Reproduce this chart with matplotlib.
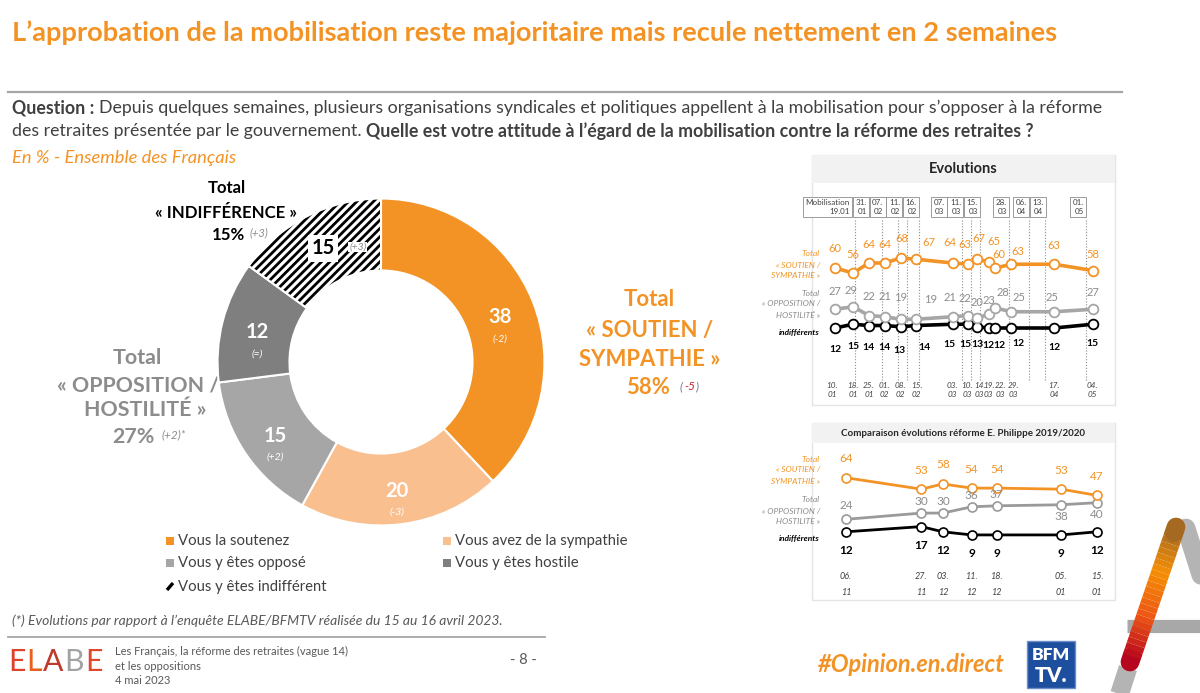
import datetime as dt
import numpy as np
import matplotlib
matplotlib.use("Agg")
import matplotlib.pyplot as plt
from matplotlib.patches import Rectangle, Wedge

plt.rcParams['font.family'] = ['Lato', 'DejaVu Sans']
plt.rcParams['hatch.linewidth'] = 2.0

W, H = 1200, 693
ORANGE = '#F39325'
LIGHT_OR = '#F9BF8F'
GRAY_L = '#A6A6A6'
GRAY_D = '#7F7F7F'
TXT = '#404040'

# ---- donut
donut_labels = ["Vous la soutenez", "Vous avez de la sympathie", "Vous y êtes opposé",
                "Vous y êtes hostile", "Vous y êtes indifférent"]
donut_values = [38, 20, 15, 12, 15]
donut_changes = ["(-2)", "(-3)", "(+2)", "(=)", "(+3)"]

# ---- evolutions 2023
evo_dates = ["2023-01-10", "2023-01-18", "2023-01-25", "2023-02-01", "2023-02-08", "2023-02-15",
             "2023-03-03", "2023-03-10", "2023-03-14", "2023-03-19", "2023-03-22", "2023-03-29",
             "2023-04-17", "2023-05-04"]
evo_soutien = [60, 56, 64, 64, 68, 67, 64, 63, 67, 65, 60, 63, 63, 58]
evo_opposition = [27, 29, 22, 21, 19, 19, 21, 22, 20, 23, 28, 25, 25, 27]
evo_indiff = [12, 15, 14, 14, 13, 14, 15, 15, 13, 12, 12, 12, 12, 15]
mobil_dates = ["2023-01-19", "2023-01-31", "2023-02-07", "2023-02-11", "2023-02-16", "2023-03-07",
               "2023-03-11", "2023-03-15", "2023-03-28", "2023-04-06", "2023-04-13", "2023-05-01"]

# ---- reforme Philippe 2019/2020
phil_dates = ["2019-11-06", "2019-11-27", "2019-12-03", "2019-12-11", "2019-12-18",
              "2020-01-05", "2020-01-15"]
phil_soutien = [64, 53, 58, 54, 54, 53, 47]
phil_opposition = [24, 30, 30, 36, 37, 38, 40]
phil_indiff = [12, 17, 12, 9, 9, 9, 12]


def to_date(s):
    return dt.date.fromisoformat(s)


def day_of_year(s):
    d = to_date(s)
    return (d - dt.date(d.year, 1, 1)).days + 1


def short(s):
    d = to_date(s)
    return "%02d.\n%02d" % (d.day, d.month)


fig = plt.figure(figsize=(12, 6.93), dpi=100)
bg = fig.add_axes([0, 0, 1, 1])
bg.set_xlim(0, W)
bg.set_ylim(H, 0)
bg.axis('off')
renderer = fig.canvas.get_renderer()


def px_axes(l, t, r, b):
    return fig.add_axes([l / W, 1 - b / H, (r - l) / W, (b - t) / H])


def text_w(s, size, **kw):
    t = bg.text(0, 0, s, fontsize=size, **kw)
    w = t.get_window_extent(renderer).width
    t.remove()
    return w


def fit(s, target, **kw):
    return 12 * target / text_w(s, 12, **kw)


def draw_runs(x, y, parts, size, **common):
    sp = text_w("a a", size) - text_w("aa", size)
    for s, kw in parts:
        t = bg.text(x, y, s, fontsize=size, va='center', ha='left', **common, **kw)
        x += t.get_window_extent(renderer).width + sp
    return x


def runs_width(parts, size):
    sp = text_w("a a", size) - text_w("aa", size)
    return sum(text_w(s, size, **kw) for s, kw in parts) + sp * (len(parts) - 1)


# ---- header
title = "L’approbation de la mobilisation reste majoritaire mais recule nettement en 2 semaines"
bg.text(12, 33, title, fontsize=fit(title, 1042, fontweight='bold'), color=ORANGE,
        fontweight='bold', va='center')
bg.plot([8, 1122], [92, 92], color=GRAY_L, lw=1.6)

B = {'fontweight': 'bold'}
N = {}
line1 = [("Question :", B), ("Depuis quelques semaines, plusieurs organisations syndicales et politiques "
                             "appellent à la mobilisation pour s’opposer à la réforme", N)]
line2 = [("des retraites présentée par le gouvernement.", N),
         ("Quelle est votre attitude à l’égard de la mobilisation contre la réforme des retraites ?", B)]
qsize = 12 * 1082 / runs_width(line1, 12)
draw_runs(12, 108, line1, qsize, color=TXT)
draw_runs(12, 131, line2, qsize, color=TXT)
sub = "En % - Ensemble des Français"
bg.text(12, 158, sub, fontsize=fit(sub, 224, style='italic'), style='italic', color=ORANGE, va='center')

# ---- donut
cols = [ORANGE, LIGHT_OR, GRAY_L, GRAY_D, 'white']
dax = px_axes(211, 192, 551, 532)
wedges, _ = dax.pie(donut_values, colors=cols, startangle=90, counterclock=False, radius=1,
                    wedgeprops=dict(width=0.44, edgecolor='white', linewidth=1.5))
hw = wedges[4]
hw.set_hatch('////')
hw.set_edgecolor('black')
hw.set_linewidth(0)
dax.add_patch(Wedge(hw.center, hw.r, hw.theta1, hw.theta2, width=hw.width,
                    fill=False, edgecolor='white', lw=1.5))
dax.set_xlim(-1.04, 1.04)
dax.set_ylim(-1.04, 1.04)

for i, w in enumerate(wedges):
    a = np.deg2rad((w.theta1 + w.theta2) / 2)
    pos = (0.78 * np.cos(a), 0.78 * np.sin(a))
    if i == 4:
        dax.annotate(str(donut_values[i]), pos, xytext=(0, 0), textcoords='offset points',
                     ha='center', va='center', fontsize=14.5, fontweight='bold', color='black',
                     bbox=dict(fc='white', ec='none', pad=2.5))
        dax.annotate(donut_changes[i], pos, xytext=(25, 1), textcoords='offset points',
                     ha='center', va='center', fontsize=7.5, style='italic', color='#8C8C8C',
                     bbox=dict(fc='white', ec='none', pad=0.5))
    else:
        dax.annotate(str(donut_values[i]), pos, xytext=(0, -1.5), textcoords='offset points',
                     ha='center', va='center', fontsize=14.5, fontweight='bold', color='white')
        dax.annotate(donut_changes[i], pos, xytext=(0, -17), textcoords='offset points',
                     ha='center', va='center', fontsize=7.5, style='italic', color='white')

# ---- totals
bsz = fit("« INDIFFÉRENCE »", 142, fontweight='bold')
bg.text(227, 188, "Total", fontsize=bsz, fontweight='bold', ha='center', va='center', color='black')
bg.text(226, 213, "« INDIFFÉRENCE »", fontsize=bsz, fontweight='bold', ha='center', va='center',
        color='black')
bg.text(245, 235, "15%", fontsize=bsz, fontweight='bold', ha='right', va='center', color='black')
bg.text(250, 233, "(+3)", fontsize=8, style='italic', ha='left', va='center', color='#8C8C8C')

osz = fit("« SOUTIEN /", 127, fontweight='bold')
bg.text(649, 300, "Total", fontsize=osz, fontweight='bold', ha='center', va='center', color=ORANGE)
bg.text(650, 330, "« SOUTIEN /", fontsize=osz, fontweight='bold', ha='center', va='center', color=ORANGE)
bg.text(650, 360, "SYMPATHIE »", fontsize=osz, fontweight='bold', ha='center', va='center', color=ORANGE)
bg.text(670, 388, "58%", fontsize=osz, fontweight='bold', ha='right', va='center', color=ORANGE)
bg.text(680, 387, "(", fontsize=8.5, style='italic', ha='left', va='center', color='#7F6F8F')
bg.text(684, 387, "-5", fontsize=8.5, style='italic', ha='left', va='center', color='#D0202E')
bg.text(695, 387, ")", fontsize=8.5, style='italic', ha='left', va='center', color='#7F6F8F')

gsz = osz * 0.97
GT = '#8C8C8C'
bg.text(137, 358, "Total", fontsize=gsz, fontweight='bold', ha='center', va='center', color=GT)
bg.text(138, 385, "« OPPOSITION /", fontsize=gsz, fontweight='bold', ha='center', va='center', color=GT)
bg.text(145, 410, "HOSTILITÉ »", fontsize=gsz, fontweight='bold', ha='center', va='center', color=GT)
bg.text(155, 437, "27%", fontsize=gsz, fontweight='bold', ha='right', va='center', color=GT)
bg.text(161, 435, "(+2)*", fontsize=8.5, style='italic', ha='left', va='center', color=GT)

# ---- legend
lsz = fit("Vous avez de la sympathie", 172)
leg_pos = [(166, 541), (443, 541), (166, 563), (443, 563), (166, 587)]
for i, (lx, ly) in enumerate(leg_pos):
    if i < 4:
        bg.add_patch(Rectangle((lx, ly - 4), 8, 8, fc=cols[i], ec='none'))
    else:
        bg.plot([lx + 1, lx + 7], [ly + 3, ly - 4], color='black', lw=2.4, solid_capstyle='butt')
    bg.text(lx + 12, ly, donut_labels[i], fontsize=lsz, va='center', ha='left', color=TXT)

# ---- evolutions panel
bg.add_patch(Rectangle((812, 155), 303, 250, fill=False, ec='#E4E4E4', lw=1))
bg.add_patch(Rectangle((812, 155), 303, 28, fc='#F2F2F2', ec='none'))
bg.text(963, 169, "Evolutions", fontsize=10.5, fontweight='bold', ha='center', va='center', color='#262626')

ax1 = px_axes(812, 185, 1115, 405)
ax1.set_xlim(-0.18, 133.9)
ax1.set_ylim(-49.6, 126.4)
ax1.axis('off')
ax1.patch.set_alpha(0)

ex = [day_of_year(d) for d in evo_dates]
mx = [day_of_year(d) for d in mobil_dates]
ax1.vlines(mx, -29.6, 100, colors='#8C8C8C', linestyles=(0, (1, 1.6)), lw=0.8, zorder=1)

for vals, col in [(evo_indiff, 'black'), (evo_opposition, GRAY_L), (evo_soutien, ORANGE)]:
    ax1.plot(ex, vals, color=col, lw=2.6, marker='o', ms=7, mfc='white', mec=col, mew=1.3, zorder=3)

# label offsets in pixels (dx, dy up)
or_dx = [0, 0, 0, 0, 1, 13, -3, -4, 1, 5, 3, 7, 0, 0]
or_dy = [19, 19, 19, 19, 19, 17, 20, 20, 21, 20, 13, 13, 19, 16]
gr_dx = [0, -2, 0, 0, 0, 14, -3, -3, 0, 0, 7, 8, -2, 0]
gr_dy = [18, 16, 19, 20, 22, 20, 19, 17, 16, 14, 16, 14, 14, 17]
bk_dx = [0, 0, 0, 0, -1, 8, -3, -3, 0, 0, 4, 7, 0, 0]
bk_dy = [21, 22, 22, 22, 24, 22, 20, 20, 18, 17, 17, 16, 20, 19]
for i, x in enumerate(ex):
    ax1.annotate(str(evo_soutien[i]), (x, evo_soutien[i]), xytext=(or_dx[i] * .72, or_dy[i] * .72),
                 textcoords='offset points', ha='center', va='center', fontsize=8, color=ORANGE)
    ax1.annotate(str(evo_opposition[i]), (x, evo_opposition[i]), xytext=(gr_dx[i] * .72, gr_dy[i] * .72),
                 textcoords='offset points', ha='center', va='center', fontsize=8, color='#8C8C8C')
    ax1.annotate(str(evo_indiff[i]), (x, evo_indiff[i]), xytext=(bk_dx[i] * .72, -bk_dy[i] * .72),
                 textcoords='offset points', ha='center', va='center', fontsize=7.5,
                 fontweight='bold', color='black')

date_dx = [-3, 0, 0, 0, 0, 0, 0, -1, 2, 0, 5, 2, 0, 0]
for i, x in enumerate(ex):
    ax1.annotate(short(evo_dates[i]), (x, -37.6), xytext=(date_dx[i] * .72, 0), textcoords='offset points',
                 ha='center', va='center', fontsize=5.9, style='italic', color=TXT, linespacing=1.4)

# event boxes at top of the dotted lines
box_txt = ["Mobilisation\n19.01"] + ["%02d.\n%02d" % (to_date(d).day, to_date(d).month) for d in mobil_dates[1:]]
right = [ax1.transData.transform((x, 0))[0] for x in mx]
widths = [text_w(s, 5.8, linespacing=1.3) + 4 for s in box_txt]
for i in range(len(right) - 2, -1, -1):
    right[i] = min(right[i], right[i + 1] - widths[i + 1] - 1.5)
for i, s in enumerate(box_txt):
    bg.text(right[i] - 2, 207, s, fontsize=5.8, ha='right', va='center', multialignment='right',
            linespacing=1.3, color=TXT,
            bbox=dict(boxstyle='square,pad=0.3', fc='white', ec='#8C8C8C', lw=0.6))

for lines, ys, col, kw in [
        (["Total", "« SOUTIEN /", "SYMPATHIE »"], [254, 265, 276], ORANGE, {}),
        (["Total", "« OPPOSITION /", "HOSTILITÉ »"], [293, 304, 315], '#8C8C8C', {}),
        (["indifférents"], [333], 'black', {'fontweight': 'bold'})]:
    for s, y in zip(lines, ys):
        bg.text(820, y, s, fontsize=6, style='italic', ha='right', va='center', color=col, **kw)

# ---- comparaison panel
bg.add_patch(Rectangle((812, 423), 303, 177, fill=False, ec='#E4E4E4', lw=1))
bg.add_patch(Rectangle((812, 423), 303, 20, fc='#F2F2F2', ec='none'))
bg.text(963, 433, "Comparaison évolutions réforme E. Philippe 2019/2020", fontsize=7, fontweight='bold',
        ha='center', va='center', color='#262626')

ax2 = px_axes(812, 443, 1115, 600)
ax2.set_xlim(-9.48, 75.0)
ax2.set_ylim(-53.6, 97.4)
ax2.axis('off')
ax2.patch.set_alpha(0)
px_ = [(to_date(d) - to_date(phil_dates[0])).days for d in phil_dates]
for vals, col in [(phil_indiff, 'black'), (phil_opposition, '#9A9A9A'), (phil_soutien, ORANGE)]:
    ax2.plot(px_, vals, color=col, lw=2.0, marker='o', ms=6.5, mfc='white', mec=col, mew=1.2, zorder=3)
opp_dy = [14, 12, 12, 11, 11, -12, -12]
for i, x in enumerate(px_):
    ax2.annotate(str(phil_soutien[i]), (x, phil_soutien[i]), xytext=(0, 19 * .72), textcoords='offset points',
                 ha='center', va='center', fontsize=8.5, color=ORANGE)
    ax2.annotate(str(phil_opposition[i]), (x, phil_opposition[i]), xytext=(0, opp_dy[i] * .72),
                 textcoords='offset points', ha='center', va='center', fontsize=8.5, color='#8C8C8C')
    ax2.annotate(str(phil_indiff[i]), (x, phil_indiff[i]), xytext=(0, -19 * .72), textcoords='offset points',
                 ha='center', va='center', fontsize=8.5, fontweight='bold', color='black')
    ax2.annotate(short(phil_dates[i]), (x, -38.7), ha='center', va='center', fontsize=6.5,
                 style='italic', color=TXT, linespacing=1.9)

for lines, ys, col, kw in [
        (["Total", "« SOUTIEN /", "SYMPATHIE »"], [459, 470, 481], ORANGE, {}),
        (["Total", "« OPPOSITION /", "HOSTILITE »"], [500, 511, 522], '#8C8C8C', {}),
        (["indifférents"], [538], 'black', {'fontweight': 'bold'})]:
    for s, y in zip(lines, ys):
        bg.text(820, y, s, fontsize=6, style='italic', ha='right', va='center', color=col, **kw)

# ---- footer
note = "(*) Evolutions par rapport à l’enquête ELABE/BFMTV réalisée du 15 au 16 avril 2023."
bg.text(12, 621, note, fontsize=fit(note, 488, style='italic'), style='italic', color='#595959', va='center')
bg.plot([8, 545], [637, 637], color=GRAY_L, lw=1.3)

esz = fit("ELABE", 90)
x = 8
for ch, c in zip("ELABE", ['#E0412A', '#E8601C', '#C0392B', '#A3A3A3', '#E0462A']):
    t = bg.text(x, 662, ch, fontsize=esz, fontweight='normal', color=c, va='center', ha='left')
    x += t.get_window_extent(renderer).width + 1
for s, y in [("Les Français, la réforme des retraites (vague 14)", 651), ("et les oppositions", 666),
             ("4 mai 2023", 681)]:
    bg.text(115, y, s, fontsize=8, color='#595959', va='center')
bg.text(523, 660, "- 8 -", fontsize=10.5, color='#595959', ha='center', va='center')
bg.text(911, 664, "#Opinion.en.direct", fontsize=fit("#Opinion.en.direct", 187, fontweight='bold', style='italic'),
        fontweight='bold', style='italic', color=ORANGE, ha='center', va='center')

bg.add_patch(Rectangle((1027, 641), 48, 47, fc='#1E4E9E', ec='#6F8FC8', lw=1))
bg.text(1051, 655, "BFM", fontsize=12.5, fontweight='heavy', color='white', ha='center', va='center')
bg.text(1051, 676, "TV.", fontsize=15, fontweight='heavy', color='white', ha='center', va='center')

# big "A" mark
bg.plot([1186, 1212], [528, 610], color='#B4B4B4', lw=13.5, solid_capstyle='round')
bg.plot([1127, 1200], [626, 626], color='#A8A8A8', lw=9.5, solid_capstyle='butt')
bg.plot([1128, 1116], [668, 705], color='#B4B4B4', lw=13.5, solid_capstyle='butt')
stops = np.array([[0.70, 0.00, 0.12], [0.93, 0.33, 0.08], [0.96, 0.56, 0.02], [0.63, 0.40, 0.14]])
n = 24
for k in range(n):
    f0, f1 = k / n, (k + 1) / n
    fm = (f0 + f1) / 2 * (len(stops) - 1)
    j = min(int(fm), len(stops) - 2)
    c = stops[j] + (stops[j + 1] - stops[j]) * (fm - j)
    xs = [1130 + (1176 - 1130) * f0, 1130 + (1176 - 1130) * f1]
    ys = [662 + (527 - 662) * f0, 662 + (527 - 662) * f1]
    cap = 'round' if k in (0, n - 1) else 'butt'
    bg.plot(xs, ys, color=c, lw=13.5, solid_capstyle=cap)

fig.savefig("out.png", dpi=100)
